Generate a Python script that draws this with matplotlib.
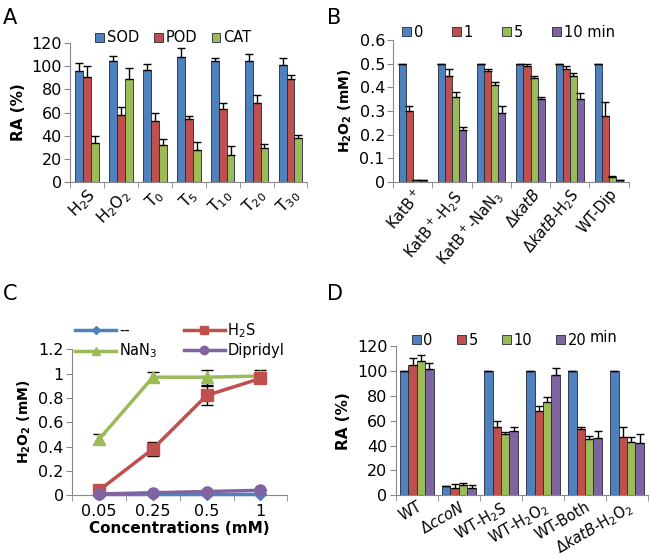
import numpy as np
import matplotlib.pyplot as plt
from matplotlib.ticker import FuncFormatter

# Panel A data
a_cats = ['H$_2$S', 'H$_2$O$_2$', 'T$_0$', 'T$_5$', 'T$_{10}$', 'T$_{20}$', 'T$_{30}$']
a_sod = [96, 104, 97, 108, 104, 104, 101]
a_sod_err = [7, 5, 5, 8, 3, 6, 6]
a_pod = [91, 58, 53, 54, 63, 68, 89]
a_pod_err = [9, 7, 7, 3, 5, 7, 3]
a_cat = [34, 89, 32, 28, 23, 29, 38]
a_cat_err = [6, 9, 5, 7, 8, 4, 3]

# Panel B data
b_cats = ['KatB$^+$', 'KatB$^+$-H$_2$S', 'KatB$^+$-NaN$_3$', r'$\Delta\mathit{katB}$',
          r'$\Delta\mathit{katB}$-H$_2$S', 'WT-Dip']
b_t0 = [0.5, 0.5, 0.5, 0.5, 0.5, 0.5]
b_t0_err = [0, 0, 0, 0, 0, 0]
b_t1 = [0.30, 0.45, 0.47, 0.49, 0.48, 0.28]
b_t1_err = [0.02, 0.03, 0.01, 0.01, 0.01, 0.06]
b_t5 = [0.01, 0.36, 0.41, 0.44, 0.45, 0.02]
b_t5_err = [0, 0.02, 0.015, 0.01, 0.01, 0.005]
b_t10 = [0.01, 0.22, 0.29, 0.35, 0.35, 0.01]
b_t10_err = [0, 0.015, 0.03, 0.01, 0.025, 0]

# Panel C data
c_conc = ['0.05', '0.25', '0.5', '1']
c_none = [0.01, 0.01, 0.01, 0.01]
c_none_err = [0, 0, 0, 0]
c_h2s = [0.04, 0.38, 0.82, 0.96]
c_h2s_err = [0.01, 0.06, 0.08, 0.03]
c_nan3 = [0.46, 0.97, 0.97, 0.98]
c_nan3_err = [0.04, 0.04, 0.06, 0.05]
c_dip = [0.01, 0.02, 0.03, 0.04]
c_dip_err = [0, 0, 0, 0]

# Panel D data
d_cats = ['WT', r'$\Delta\mathit{ccoN}$', 'WT-H$_2$S', 'WT-H$_2$O$_2$', 'WT-Both',
          r'$\Delta\mathit{katB}$-H$_2$O$_2$']
d_t0 = [100, 7, 100, 100, 100, 100]
d_t0_err = [0, 0, 0, 0, 0, 0]
d_t5 = [105, 6, 55, 68, 53, 47]
d_t5_err = [6, 3, 5, 4, 2, 8]
d_t10 = [108, 8, 49, 75, 45, 43]
d_t10_err = [5, 2, 2, 4, 3, 4]
d_t20 = [102, 6, 52, 97, 46, 42]
d_t20_err = [5, 2, 3, 6, 6, 7]

BLUE = '#4F81BD'
RED = '#C0504D'
GREEN = '#9BBB59'
PURPLE = '#8064A2'

plt.rcParams['font.family'] = 'DejaVu Sans'
plt.rcParams['font.size'] = 11

fig = plt.figure(figsize=(6.5, 5.57), dpi=100)


def style_axes(ax, n):
    for s in ['top', 'right']:
        ax.spines[s].set_visible(False)
    for s in ['left', 'bottom']:
        ax.spines[s].set_color('#888888')
    ax.set_xlim(-0.5, n - 0.5)
    ax.set_xticks(np.arange(n + 1) - 0.5, minor=True)
    ax.tick_params(axis='x', which='minor', length=4, color='#888888')
    ax.tick_params(axis='x', which='major', length=0, pad=3)
    ax.tick_params(axis='y', length=4, color='#888888', pad=2, labelsize=11.5)


def bar_group(ax, series, errs, colors, labels, width):
    n = len(series[0])
    x = np.arange(n)
    k = len(series)
    for i, (vals, err, c, lab) in enumerate(zip(series, errs, colors, labels)):
        off = (i - (k - 1) / 2) * width
        ax.bar(x + off, vals, width, color=c, edgecolor='#1f2a3a', linewidth=0.6, label=lab)
        ax.errorbar(x + off, vals, yerr=[np.zeros(n), err], fmt='none', ecolor='black',
                    elinewidth=1, capsize=3, capthick=1)


def bar_legend(ax, anchor, spacing):
    ax.legend(loc='center', bbox_to_anchor=anchor, ncol=4, frameon=False,
              handlelength=0.6, handleheight=0.6, handletextpad=0.2,
              columnspacing=spacing, fontsize=10.5, borderaxespad=0, borderpad=0)


# Panel A
axA = fig.add_axes([0.108, 0.673, 0.365, 0.25])
bar_group(axA, [a_sod, a_pod, a_cat], [a_sod_err, a_pod_err, a_cat_err],
          [BLUE, RED, GREEN], ['SOD', 'POD', 'CAT'], 0.23)
style_axes(axA, len(a_cats))
axA.set_ylim(0, 120)
axA.set_yticks(range(0, 121, 20))
axA.set_xticks(range(len(a_cats)))
axA.set_xticklabels(a_cats, rotation=45, ha='right', rotation_mode='anchor', fontsize=11.5)
axA.set_ylabel('RA (%)', fontweight='bold', fontsize=11)
bar_legend(axA, (0.435, 1.036), 1.0)
fig.text(0.005, 0.985, 'A', fontsize=15, va='top')

# Panel B
axB = fig.add_axes([0.605, 0.673, 0.362, 0.255])
bar_group(axB, [b_t0, b_t1, b_t5, b_t10], [b_t0_err, b_t1_err, b_t5_err, b_t10_err],
          [BLUE, RED, GREEN, PURPLE], ['0', '1', '5', '10 min'], 0.18)
style_axes(axB, len(b_cats))
axB.set_ylim(0, 0.6)
axB.set_yticks(np.arange(0, 0.61, 0.1))
axB.yaxis.set_major_formatter(FuncFormatter(lambda v, p: '%g' % round(v, 2)))
axB.set_xticks(range(len(b_cats)))
axB.set_xticklabels(b_cats, rotation=50, ha='right', rotation_mode='anchor', fontsize=10.5)
axB.set_ylabel('H$_\\mathbf{2}$O$_\\mathbf{2}$ (mM)', fontweight='bold', fontsize=10)
bar_legend(axB, (0.49, 1.056), 2.0)
fig.text(0.503, 0.985, 'B', fontsize=15, va='top')

# Panel C
axC = fig.add_axes([0.111, 0.111, 0.331, 0.262])
xc = np.arange(len(c_conc))
line_specs = [
    (c_none, c_none_err, BLUE, 'D', '--'),
    (c_nan3, c_nan3_err, GREEN, '^', 'NaN$_3$'),
    (c_h2s, c_h2s_err, RED, 's', 'H$_2$S'),
    (c_dip, c_dip_err, PURPLE, 'o', 'Dipridyl'),
]
for vals, err, col, mk, lab in line_specs:
    axC.errorbar(xc, vals, yerr=err, fmt='none', ecolor='black', elinewidth=1,
                 capsize=4, capthick=1, zorder=2)
    axC.plot(xc, vals, color=col, marker=mk, markersize=8 if mk != 'D' else 6,
             linewidth=2.5, label=lab, zorder=3, clip_on=False)
style_axes(axC, len(c_conc))
axC.set_ylim(0, 1.2)
axC.set_yticks(np.arange(0, 1.21, 0.2))
axC.yaxis.set_major_formatter(FuncFormatter(lambda v, p: '%g' % round(v, 2)))
axC.set_xticks(xc)
axC.set_xticklabels(c_conc, fontsize=11.5)
axC.tick_params(axis='x', which='major', pad=6)
axC.set_xlabel('Concentrations (mM)', fontweight='bold', fontsize=11, labelpad=2)
axC.set_ylabel('H$_\\mathbf{2}$O$_\\mathbf{2}$ (mM)', fontweight='bold', fontsize=10)
axC.legend(loc='center', bbox_to_anchor=(0.5, 1.058), ncol=2, frameon=False,
           handlelength=2.8, handletextpad=0.2, columnspacing=1.8, labelspacing=0.25,
           markerscale=0.75, fontsize=10.5, borderaxespad=0, borderpad=0)
fig.text(0.005, 0.49, 'C', fontsize=15, va='top')

# Panel D
axD = fig.add_axes([0.609, 0.111, 0.388, 0.267])
bar_group(axD, [d_t0, d_t5, d_t10, d_t20], [d_t0_err, d_t5_err, d_t10_err, d_t20_err],
          [BLUE, RED, GREEN, PURPLE], ['0', '5', '10', '20'], 0.2)
style_axes(axD, len(d_cats))
axD.set_ylim(0, 120)
axD.set_yticks(range(0, 121, 20))
axD.set_xticks(range(len(d_cats)))
axD.set_xticklabels(d_cats, rotation=30, ha='right', rotation_mode='anchor', fontsize=10.5)
axD.set_ylabel('RA (%)', fontweight='bold', fontsize=11)
bar_legend(axD, (0.41, 1.04), 1.65)
axD.text(0.77, 1.06, 'min', transform=axD.transAxes, fontsize=10.5, va='center')
fig.text(0.503, 0.49, 'D', fontsize=15, va='top')

fig.savefig('out.png', dpi=100)
